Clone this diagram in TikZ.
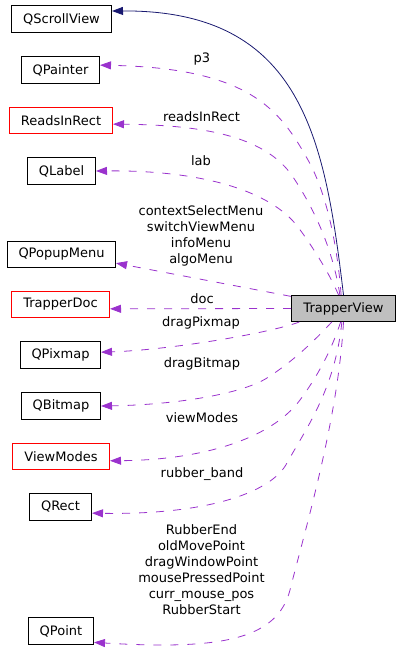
\documentclass[tikz,border=0pt]{standalone}
\usepackage{fontspec}
\setmainfont{DejaVu Sans}
\usepackage{tikz}
\usetikzlibrary{arrows.meta, positioning}
\definecolor{UsePurple}{HTML}{9A32CD}
\definecolor{BaseNavy}{HTML}{191970}
\definecolor{MainGray}{HTML}{BFBFBF}
\definecolor{DocRed}{HTML}{FF0000}
\newcommand\graphfont{\fontsize{13bp}{16bp}\selectfont}
\tikzset{
  % Box styles
  classbox/.style={rectangle, draw=black, fill=white, line width=1bp, minimum height=27bp, inner sep=0pt, font=\graphfont},
  docbox/.style={classbox, draw=DocRed, minimum height=26bp},
  mainbox/.style={classbox, fill=MainGray, minimum height=26bp},
  % Label styles
  edgelabel/.style={font=\graphfont, align=center, inner sep=0pt},
  % Arrow styles
  usearrow/.style={-{Triangle[length=11bp,width=8bp]}, UsePurple, line width=0.8bp, dash pattern=on 8bp off 9bp},
  basearrow/.style={-{Triangle[length=11bp,width=8bp]}, BaseNavy, line width=0.8bp}
}

\begin{document}
\begin{tikzpicture}[x=1bp, y=-1bp]
  \useasboundingbox (0,0) rectangle (400,660);

  % Main class
  \node[mainbox, minimum width=104bp] (tv) at (343.5,308.5) {TrapperView};

  % Used classes
  \node[classbox, minimum width=100bp] (qsv) at (61.5,19) {QScrollView};
  \node[classbox, minimum width=78bp] (qp) at (60.5,70) {QPainter};
  \node[docbox, minimum width=103bp] (rir) at (61,120.5) {ReadsInRect};
  \node[classbox, minimum width=68bp] (ql) at (61.5,171) {QLabel};
  \node[classbox, minimum width=108bp, minimum height=26bp] (pm) at (61.5,254.5) {QPopupMenu};
  \node[docbox, minimum width=98bp] (td) at (60.5,304.5) {TrapperDoc};
  \node[classbox, minimum width=80bp] (px) at (60.5,355) {QPixmap};
  \node[classbox, minimum width=79bp] (bm) at (61,406) {QBitmap};
  \node[docbox, minimum width=97bp] (vm) at (61,456.5) {ViewModes};
  \node[classbox, minimum width=62bp] (qr) at (60.5,507) {QRect};
  \node[classbox, minimum width=65bp] (qpt) at (61,631) {QPoint};

  % Member labels
  \node[edgelabel] (lp3) at (202,59) {p3};
  \node[edgelabel] (lrir) at (201.5,117) {readsInRect};
  \node[edgelabel] (llab) at (201,161) {lab};
  \node[edgelabel] (lmenu) at (201,236) {contextSelectMenu\\switchViewMenu\\infoMenu\\algoMenu};
  \node[edgelabel] (ldoc) at (202,299) {doc};
  \node[edgelabel] (lpix) at (201,323) {dragPixmap};
  \node[edgelabel] (lbit) at (202,364) {dragBitmap};
  \node[edgelabel] (lvm) at (202,418) {viewModes};
  \node[edgelabel] (lrub) at (202,474) {rubber\_band};
  \node[edgelabel] (lpts) at (201.5,570) {RubberEnd\\oldMovePoint\\dragWindowPoint\\mousePressedPoint\\curr\_mouse\_pos\\RubberStart};

  % Inheritance
  \draw[basearrow] (tv.north) .. controls (325,140) and (303,10) .. (qsv.9);

  % Usage
  \draw[usearrow] (tv.100) .. controls (337,240) and (325,190) .. (308,160) .. controls (280,110) and (250,68) .. (qp.7);
  \draw[usearrow] (tv.105) .. controls (333,250) and (315,210) .. (293,177) .. controls (265,135) and (200,125) .. (rir.-4);
  \draw[usearrow] (tv.110) .. controls (330,275) and (315,250) .. (298,227) .. controls (270,190) and (200,170) .. (ql.east);
  \draw[usearrow] (tv.167) -- (pm.-9);
  \draw[usearrow] (tv.west) -- (td.-5);
  \draw[usearrow] (tv.197) .. controls (270,333) and (170,350) .. (px.4);
  \draw[usearrow] (tv.229) .. controls (315,340) and (295,360) .. (267,378) .. controls (240,395) and (170,405) .. (bm.east);
  \draw[usearrow] (tv.258) .. controls (333,345) and (322,370) .. (300,400) .. controls (270,440) and (200,460) .. (vm.-5);
  \draw[usearrow] (tv.263) .. controls (335,390) and (305,430) .. (287,463) .. controls (270,495) and (200,515) .. (qr.-11);
  \draw[usearrow] (tv.south) .. controls (338,420) and (305,530) .. (290,590) .. controls (277,640) and (220,650) .. (qpt.-19);
\end{tikzpicture}
\end{document}
